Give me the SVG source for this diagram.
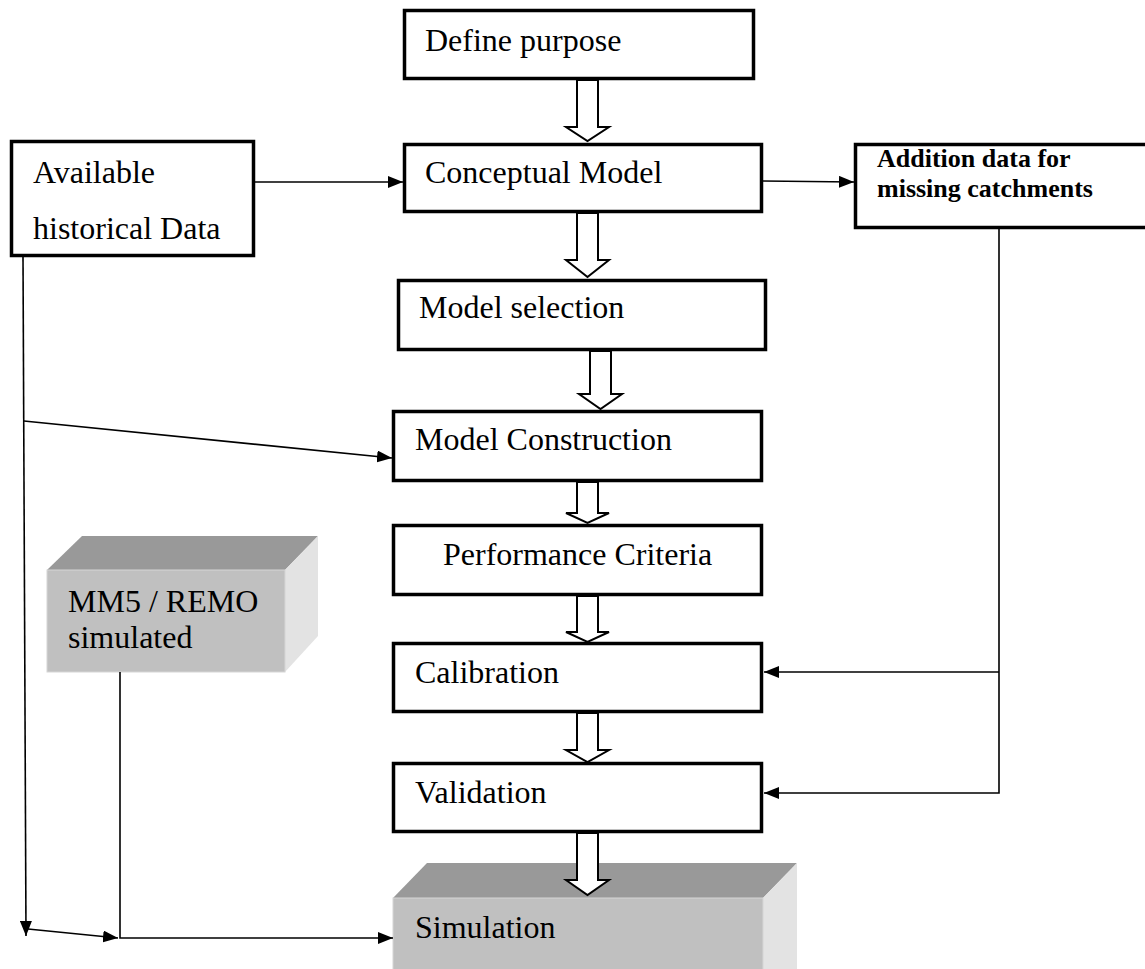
<svg xmlns="http://www.w3.org/2000/svg" width="1145" height="969" viewBox="0 0 1145 969">
<defs>
<style>
.box{fill:#fff;stroke:#000;stroke-width:3.5}
.t{font-family:"Liberation Serif","Times New Roman",serif;font-size:32px;fill:#000}
.tb{font-family:"Liberation Serif","Times New Roman",serif;font-size:26px;font-weight:bold;fill:#000}
.ln{fill:none;stroke:#000;stroke-width:1.6}
.ha{fill:#fff;stroke:#000;stroke-width:2;stroke-linejoin:miter}
.top{fill:#999999}
.front{fill:#c0c0c0;stroke:#d6d6d6;stroke-width:1}
.side{fill:#e3e3e3}
</style>
<marker id="ah" markerUnits="userSpaceOnUse" markerWidth="15" markerHeight="12" refX="15" refY="6" orient="auto">
<path d="M0,0 L15,6 L0,12 z" fill="#000"/>
</marker>
</defs>
<rect width="1145" height="969" fill="#fff"/>

<g id="define-purpose">
<rect class="box" x="404.5" y="10.5" width="349" height="68"/>
<text class="t" x="425" y="51">Define purpose</text>
</g>
<g id="conceptual-model">
<rect class="box" x="404.5" y="144.5" width="357" height="67"/>
<text class="t" x="425" y="183">Conceptual Model</text>
</g>
<g id="available-data">
<rect class="box" x="11.5" y="141.5" width="242" height="114"/>
<text class="t" x="33" y="183">Available</text>
<text class="t" x="33" y="239">historical Data</text>
</g>
<g id="addition-data">
<rect class="box" x="855.5" y="144.5" width="300" height="83"/>
<text class="tb" x="877" y="167">Addition data for</text>
<text class="tb" x="877" y="197">missing catchments</text>
</g>
<g id="model-selection">
<rect class="box" x="398.5" y="280.5" width="367" height="69"/>
<text class="t" x="419" y="318">Model selection</text>
</g>
<g id="model-construction">
<rect class="box" x="393.5" y="411.5" width="368" height="69"/>
<text class="t" x="415" y="450">Model Construction</text>
</g>
<g id="performance-criteria">
<rect class="box" x="393.5" y="525.5" width="368" height="69"/>
<text class="t" x="443" y="565">Performance Criteria</text>
</g>
<g id="calibration">
<rect class="box" x="393.5" y="643.5" width="368" height="68"/>
<text class="t" x="415" y="683">Calibration</text>
</g>
<g id="validation">
<rect class="box" x="393.5" y="763.5" width="368" height="68"/>
<text class="t" x="415" y="803">Validation</text>
</g>
<g id="mm5-remo">
<polygon class="top" points="47,570 82,536 318,536 285,570"/>
<polygon class="side" points="285,570 318,536 318,636 285,672"/>
<rect class="front" x="47" y="570" width="238" height="102"/>
<text class="t" x="68" y="612">MM5 / REMO</text>
<text class="t" x="68" y="648">simulated</text>
</g>
<g id="simulation">
<polygon class="top" points="393,898 427,863 797,863 763,898"/>
<polygon class="side" points="763,898 797,863 797,975 763,975"/>
<rect class="front" x="393" y="898" width="370" height="80"/>
<text class="t" x="415" y="938">Simulation</text>
</g>

<g id="connectors">
<line class="ln" x1="255" y1="182" x2="403" y2="182" marker-end="url(#ah)"/>
<line class="ln" x1="763" y1="181" x2="854" y2="182" marker-end="url(#ah)"/>
<polyline class="ln" points="999,229 999,793 764,793" marker-end="url(#ah)"/>
<line class="ln" x1="999" y1="672" x2="764" y2="672" marker-end="url(#ah)"/>
<line class="ln" x1="23" y1="257" x2="26" y2="936" marker-end="url(#ah)"/>
<line class="ln" x1="24" y1="421" x2="392" y2="458" marker-end="url(#ah)"/>
<line class="ln" x1="28" y1="929" x2="118" y2="938" marker-end="url(#ah)"/>
<polyline class="ln" points="120,672 120,938 393,938" marker-end="url(#ah)"/>
<polygon class="ha" points="577,80 598,80 598,127 609,127 587.5,141 566,127 577,127"/>
<polygon class="ha" points="577,213 598,213 598,260 609,260 587.5,277 566,260 577,260"/>
<polygon class="ha" points="590,351 611,351 611,394 622,394 600.5,409 579,394 590,394"/>
<polygon class="ha" points="577,482 598,482 598,513 609,513 587.5,523 566,513 577,513"/>
<polygon class="ha" points="577,596 598,596 598,632 609,632 587.5,642 566,632 577,632"/>
<polygon class="ha" points="577,713 598,713 598,750 609,750 587.5,762 566,750 577,750"/>
<polygon class="ha" points="577,833 598,833 598,880 609,880 587.5,895 566,880 577,880"/>
</g>
</svg>
